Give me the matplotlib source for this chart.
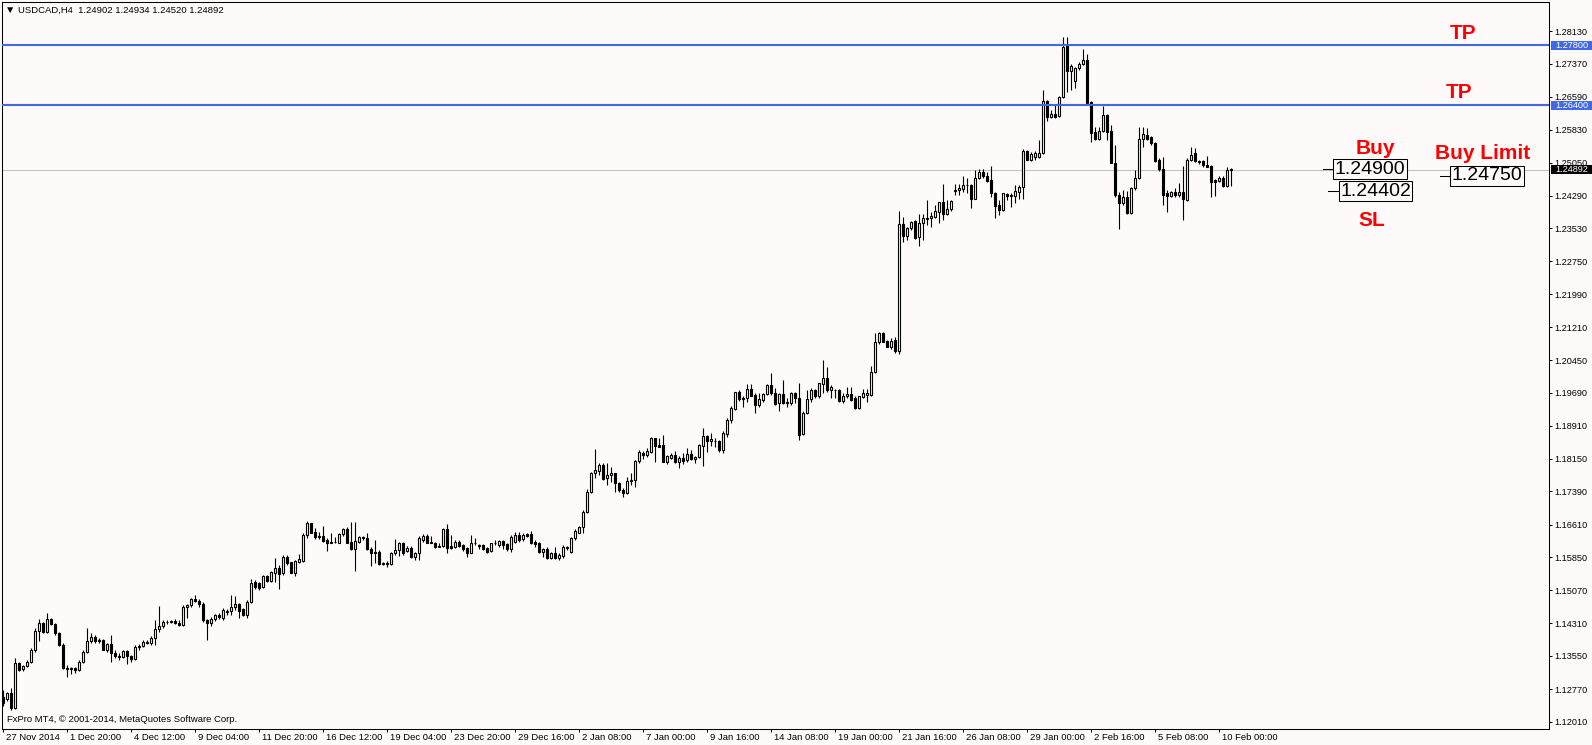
import numpy as np
import matplotlib
matplotlib.use("Agg")
import matplotlib.pyplot as plt
from matplotlib.patches import Rectangle
from matplotlib.transforms import blended_transform_factory, ScaledTranslation

plt.rcParams['font.family'] = ['Liberation Sans', 'DejaVu Sans']

# USDCAD H4 bars, 27 Nov 2014 -> 10 Feb 2015
opens = [
    1.1259, 1.1254, 1.1267, 1.1232, 1.1337, 1.1323, 1.1331, 1.1339, 1.1368, 1.1413,
    1.1431, 1.1411, 1.1440, 1.1429, 1.1407, 1.1380, 1.1325, 1.1323, 1.1325, 1.1322,
    1.1341, 1.1364, 1.1388, 1.1399, 1.1389, 1.1392, 1.1368, 1.1381, 1.1362, 1.1354,
    1.1351, 1.1366, 1.1353, 1.1347, 1.1374, 1.1378, 1.1387, 1.1384, 1.1397, 1.1417,
    1.1423, 1.1433, 1.1434, 1.1435, 1.1431, 1.1427, 1.1469, 1.1472, 1.1486, 1.1483,
    1.1476, 1.1438, 1.1430, 1.1440, 1.1450, 1.1442, 1.1457, 1.1458, 1.1468, 1.1476,
    1.1463, 1.1450, 1.1481, 1.1526, 1.1524, 1.1514, 1.1541, 1.1530, 1.1549, 1.1559,
    1.1547, 1.1586, 1.1573, 1.1549, 1.1574, 1.1577, 1.1637, 1.1664, 1.1644, 1.1633,
    1.1634, 1.1625, 1.1619, 1.1621, 1.1619, 1.1639, 1.1651, 1.1621, 1.1603, 1.1621,
    1.1631, 1.1630, 1.1605, 1.1598, 1.1598, 1.1569, 1.1571, 1.1569, 1.1594, 1.1602,
    1.1617, 1.1599, 1.1607, 1.1585, 1.1594, 1.1625, 1.1634, 1.1619, 1.1619, 1.1609,
    1.1610, 1.1650, 1.1610, 1.1608, 1.1621, 1.1613, 1.1606, 1.1595, 1.1617, 1.1613,
    1.1613, 1.1607, 1.1599, 1.1617, 1.1613, 1.1623, 1.1616, 1.1603, 1.1621, 1.1637,
    1.1627, 1.1638, 1.1638, 1.1621, 1.1619, 1.1598, 1.1603, 1.1582, 1.1595, 1.1582,
    1.1588, 1.1606, 1.1598, 1.1629, 1.1642, 1.1655, 1.1691, 1.1736, 1.1781, 1.1787,
    1.1800, 1.1769, 1.1777, 1.1781, 1.1757, 1.1742, 1.1734, 1.1763, 1.1765, 1.1809,
    1.1829, 1.1823, 1.1831, 1.1862, 1.1847, 1.1847, 1.1808, 1.1817, 1.1823, 1.1808,
    1.1817, 1.1812, 1.1826, 1.1813, 1.1818, 1.1844, 1.1868, 1.1855, 1.1857, 1.1857,
    1.1834, 1.1872, 1.1904, 1.1930, 1.1970, 1.1957, 1.1956, 1.1977, 1.1963, 1.1940,
    1.1952, 1.1966, 1.1987, 1.1969, 1.1944, 1.1966, 1.1944, 1.1944, 1.1967, 1.1956,
    1.1872, 1.1922, 1.1953, 1.1975, 1.1960, 1.1989, 1.2004, 1.1974, 1.1976, 1.1974,
    1.1950, 1.1960, 1.1965, 1.1956, 1.1932, 1.1958, 1.1963, 1.1963, 1.2016, 1.2088,
    1.2109, 1.2090, 1.2076, 1.2092, 1.2067, 1.2363, 1.2335, 1.2352, 1.2370, 1.2331,
    1.2364, 1.2376, 1.2376, 1.2380, 1.2391, 1.2413, 1.2385, 1.2397, 1.2440, 1.2442,
    1.2444, 1.2454, 1.2454, 1.2422, 1.2471, 1.2484, 1.2475, 1.2465, 1.2436, 1.2407,
    1.2395, 1.2433, 1.2428, 1.2429, 1.2438, 1.2448, 1.2534, 1.2513, 1.2519, 1.2519,
    1.2529, 1.2650, 1.2613, 1.2619, 1.2614, 1.2658, 1.2780, 1.2720, 1.2697, 1.2726,
    1.2735, 1.2745, 1.2648, 1.2578, 1.2560, 1.2580, 1.2617, 1.2580, 1.2506, 1.2430,
    1.2411, 1.2426, 1.2389, 1.2446, 1.2469, 1.2560, 1.2570, 1.2565, 1.2551, 1.2512,
    1.2490, 1.2434, 1.2429, 1.2438, 1.2430, 1.2438, 1.2418, 1.2513, 1.2529, 1.2510,
    1.2510, 1.2500, 1.2498, 1.2465, 1.2464, 1.2471, 1.2451, 1.24902,
]
highs = [
    1.1275, 1.1271, 1.1279, 1.1349, 1.1339, 1.1333, 1.1345, 1.1372, 1.1419, 1.1440,
    1.1434, 1.1454, 1.1442, 1.1432, 1.1409, 1.1384, 1.1333, 1.1328, 1.1328, 1.1345,
    1.1368, 1.1419, 1.1407, 1.1403, 1.1395, 1.1393, 1.1385, 1.1403, 1.1367, 1.1360,
    1.1368, 1.1368, 1.1357, 1.1380, 1.1382, 1.1392, 1.1392, 1.1401, 1.1438, 1.1471,
    1.1437, 1.1438, 1.1438, 1.1440, 1.1437, 1.1473, 1.1476, 1.1489, 1.1497, 1.1486,
    1.1479, 1.1441, 1.1444, 1.1452, 1.1454, 1.1465, 1.1463, 1.1497, 1.1493, 1.1477,
    1.1465, 1.1485, 1.1533, 1.1532, 1.1526, 1.1543, 1.1543, 1.1553, 1.1584, 1.1567,
    1.1590, 1.1590, 1.1574, 1.1578, 1.1592, 1.1641, 1.1670, 1.1665, 1.1652, 1.1644,
    1.1658, 1.1630, 1.1641, 1.1633, 1.1641, 1.1654, 1.1656, 1.1666, 1.1666, 1.1634,
    1.1634, 1.1641, 1.1609, 1.1625, 1.1602, 1.1574, 1.1576, 1.1598, 1.1627, 1.1621,
    1.1621, 1.1610, 1.1610, 1.1598, 1.1634, 1.1638, 1.1638, 1.1634, 1.1621, 1.1617,
    1.1652, 1.1662, 1.1637, 1.1625, 1.1625, 1.1616, 1.1609, 1.1637, 1.1629, 1.1615,
    1.1615, 1.1609, 1.1619, 1.1625, 1.1626, 1.1626, 1.1619, 1.1637, 1.1644, 1.1644,
    1.1642, 1.1642, 1.1646, 1.1625, 1.1621, 1.1606, 1.1609, 1.1598, 1.1609, 1.1594,
    1.1613, 1.1611, 1.1633, 1.1650, 1.1658, 1.1695, 1.1743, 1.1784, 1.1837, 1.1805,
    1.1804, 1.1804, 1.1795, 1.1782, 1.1761, 1.1746, 1.1773, 1.1781, 1.1812, 1.1835,
    1.1833, 1.1839, 1.1865, 1.1864, 1.1862, 1.1870, 1.1823, 1.1827, 1.1833, 1.1821,
    1.1827, 1.1839, 1.1835, 1.1821, 1.1849, 1.1886, 1.1870, 1.1874, 1.1862, 1.1858,
    1.1879, 1.1909, 1.1938, 1.1971, 1.1975, 1.1961, 1.1989, 1.1989, 1.1967, 1.1969,
    1.1969, 1.1989, 1.2014, 1.1979, 1.1969, 1.1998, 1.1956, 1.1971, 1.1971, 1.1991,
    1.1925, 1.1975, 1.1979, 1.1977, 1.1992, 1.2044, 1.2028, 1.1987, 1.1978, 1.1977,
    1.1967, 1.1981, 1.1981, 1.1960, 1.1961, 1.1977, 1.1977, 1.2031, 1.2109, 1.2111,
    1.2111, 1.2092, 1.2096, 1.2098, 1.2394, 1.2380, 1.2355, 1.2370, 1.2373, 1.2386,
    1.2386, 1.2419, 1.2391, 1.2407, 1.2415, 1.2456, 1.2419, 1.2419, 1.2457, 1.2456,
    1.2475, 1.2471, 1.2457, 1.2489, 1.2490, 1.2490, 1.2485, 1.2498, 1.2438, 1.2418,
    1.2436, 1.2436, 1.2436, 1.2454, 1.2454, 1.2537, 1.2535, 1.2531, 1.2533, 1.2559,
    1.2675, 1.2653, 1.2629, 1.2640, 1.2661, 1.2800, 1.2800, 1.2737, 1.2730, 1.2741,
    1.2770, 1.2759, 1.2650, 1.2590, 1.2588, 1.2638, 1.2619, 1.2594, 1.2547, 1.2438,
    1.2442, 1.2440, 1.2448, 1.2489, 1.2590, 1.2588, 1.2586, 1.2568, 1.2555, 1.2516,
    1.2518, 1.2442, 1.2440, 1.2446, 1.2459, 1.2498, 1.2516, 1.2543, 1.2539, 1.2513,
    1.2512, 1.2521, 1.2500, 1.2467, 1.2475, 1.2475, 1.2495, 1.24934,
]
lows = [
    1.1237, 1.1250, 1.1228, 1.1230, 1.1320, 1.1320, 1.1328, 1.1337, 1.1364, 1.1388,
    1.1407, 1.1407, 1.1427, 1.1403, 1.1378, 1.1323, 1.1306, 1.1312, 1.1315, 1.1318,
    1.1337, 1.1360, 1.1385, 1.1385, 1.1384, 1.1367, 1.1364, 1.1339, 1.1349, 1.1345,
    1.1349, 1.1336, 1.1339, 1.1345, 1.1368, 1.1374, 1.1382, 1.1380, 1.1380, 1.1411,
    1.1419, 1.1429, 1.1431, 1.1428, 1.1423, 1.1424, 1.1442, 1.1469, 1.1481, 1.1469,
    1.1434, 1.1392, 1.1425, 1.1436, 1.1440, 1.1438, 1.1450, 1.1450, 1.1462, 1.1442,
    1.1448, 1.1442, 1.1477, 1.1510, 1.1508, 1.1512, 1.1526, 1.1528, 1.1528, 1.1510,
    1.1543, 1.1567, 1.1547, 1.1541, 1.1571, 1.1574, 1.1629, 1.1641, 1.1627, 1.1627,
    1.1620, 1.1600, 1.1617, 1.1617, 1.1617, 1.1634, 1.1617, 1.1602, 1.1553, 1.1617,
    1.1626, 1.1602, 1.1564, 1.1571, 1.1567, 1.1567, 1.1563, 1.1567, 1.1590, 1.1588,
    1.1590, 1.1598, 1.1582, 1.1578, 1.1578, 1.1621, 1.1617, 1.1617, 1.1606, 1.1608,
    1.1608, 1.1594, 1.1603, 1.1606, 1.1609, 1.1600, 1.1585, 1.1594, 1.1613, 1.1603,
    1.1602, 1.1595, 1.1598, 1.1613, 1.1609, 1.1603, 1.1600, 1.1598, 1.1619, 1.1621,
    1.1623, 1.1631, 1.1616, 1.1609, 1.1594, 1.1586, 1.1580, 1.1580, 1.1580, 1.1578,
    1.1582, 1.1602, 1.1595, 1.1625, 1.1641, 1.1642, 1.1687, 1.1734, 1.1769, 1.1777,
    1.1765, 1.1753, 1.1761, 1.1738, 1.1736, 1.1725, 1.1732, 1.1753, 1.1748, 1.1804,
    1.1813, 1.1819, 1.1827, 1.1808, 1.1841, 1.1808, 1.1802, 1.1813, 1.1804, 1.1792,
    1.1802, 1.1808, 1.1812, 1.1805, 1.1816, 1.1798, 1.1831, 1.1844, 1.1841, 1.1831,
    1.1829, 1.1866, 1.1899, 1.1928, 1.1950, 1.1936, 1.1948, 1.1960, 1.1921, 1.1936,
    1.1948, 1.1963, 1.1963, 1.1940, 1.1925, 1.1942, 1.1936, 1.1940, 1.1944, 1.1858,
    1.1870, 1.1919, 1.1946, 1.1956, 1.1956, 1.1967, 1.1971, 1.1956, 1.1956, 1.1948,
    1.1944, 1.1956, 1.1950, 1.1930, 1.1930, 1.1956, 1.1948, 1.1961, 1.2014, 1.2083,
    1.2086, 1.2075, 1.2070, 1.2062, 1.2059, 1.2321, 1.2324, 1.2349, 1.2327, 1.2310,
    1.2324, 1.2360, 1.2356, 1.2376, 1.2364, 1.2372, 1.2383, 1.2394, 1.2430, 1.2430,
    1.2438, 1.2434, 1.2401, 1.2420, 1.2467, 1.2471, 1.2461, 1.2426, 1.2376, 1.2384,
    1.2394, 1.2418, 1.2403, 1.2411, 1.2420, 1.2422, 1.2512, 1.2510, 1.2512, 1.2516,
    1.2527, 1.2604, 1.2611, 1.2611, 1.2613, 1.2656, 1.2671, 1.2675, 1.2679, 1.2722,
    1.2734, 1.2644, 1.2555, 1.2559, 1.2559, 1.2578, 1.2559, 1.2504, 1.2426, 1.2350,
    1.2407, 1.2387, 1.2387, 1.2443, 1.2467, 1.2543, 1.2559, 1.2547, 1.2508, 1.2487,
    1.2407, 1.2391, 1.2426, 1.2426, 1.2426, 1.2373, 1.2417, 1.2510, 1.2508, 1.2503,
    1.2496, 1.2495, 1.2425, 1.2428, 1.2461, 1.2450, 1.2448, 1.24520,
]
closes = [
    1.1244, 1.1267, 1.1232, 1.1337, 1.1322, 1.1331, 1.1339, 1.1368, 1.1413, 1.1431,
    1.1411, 1.1440, 1.1429, 1.1407, 1.1380, 1.1325, 1.1323, 1.1325, 1.1322, 1.1341,
    1.1364, 1.1388, 1.1399, 1.1389, 1.1392, 1.1368, 1.1381, 1.1362, 1.1354, 1.1351,
    1.1366, 1.1353, 1.1347, 1.1374, 1.1378, 1.1387, 1.1384, 1.1397, 1.1417, 1.1423,
    1.1433, 1.1434, 1.1435, 1.1431, 1.1427, 1.1469, 1.1472, 1.1486, 1.1483, 1.1476,
    1.1438, 1.1430, 1.1440, 1.1450, 1.1445, 1.1462, 1.1459, 1.1468, 1.1476, 1.1460,
    1.1450, 1.1481, 1.1524, 1.1515, 1.1512, 1.1541, 1.1530, 1.1551, 1.1559, 1.1546,
    1.1586, 1.1571, 1.1549, 1.1576, 1.1580, 1.1637, 1.1664, 1.1642, 1.1633, 1.1634,
    1.1623, 1.1619, 1.1621, 1.1620, 1.1639, 1.1651, 1.1619, 1.1603, 1.1623, 1.1631,
    1.1630, 1.1603, 1.1594, 1.1594, 1.1569, 1.1571, 1.1569, 1.1594, 1.1602, 1.1619,
    1.1594, 1.1607, 1.1585, 1.1595, 1.1629, 1.1634, 1.1619, 1.1620, 1.1609, 1.1612,
    1.1650, 1.1606, 1.1606, 1.1621, 1.1612, 1.1603, 1.1595, 1.1617, 1.1619, 1.1612,
    1.1604, 1.1598, 1.1617, 1.1618, 1.1623, 1.1613, 1.1603, 1.1631, 1.1637, 1.1625,
    1.1637, 1.1634, 1.1617, 1.1616, 1.1598, 1.1603, 1.1582, 1.1595, 1.1582, 1.1590,
    1.1609, 1.1609, 1.1629, 1.1646, 1.1655, 1.1691, 1.1736, 1.1781, 1.1788, 1.1800,
    1.1767, 1.1777, 1.1782, 1.1757, 1.1742, 1.1734, 1.1763, 1.1765, 1.1809, 1.1831,
    1.1823, 1.1833, 1.1862, 1.1844, 1.1843, 1.1808, 1.1820, 1.1823, 1.1808, 1.1817,
    1.1810, 1.1826, 1.1813, 1.1818, 1.1847, 1.1868, 1.1855, 1.1861, 1.1855, 1.1834,
    1.1874, 1.1905, 1.1932, 1.1970, 1.1953, 1.1953, 1.1977, 1.1961, 1.1940, 1.1953,
    1.1966, 1.1987, 1.1967, 1.1942, 1.1966, 1.1944, 1.1946, 1.1967, 1.1956, 1.1870,
    1.1922, 1.1953, 1.1975, 1.1960, 1.1991, 1.2004, 1.1974, 1.1981, 1.1974, 1.1950,
    1.1961, 1.1965, 1.1952, 1.1932, 1.1960, 1.1967, 1.1967, 1.2016, 1.2088, 1.2109,
    1.2088, 1.2076, 1.2090, 1.2065, 1.2363, 1.2335, 1.2352, 1.2368, 1.2329, 1.2364,
    1.2376, 1.2375, 1.2381, 1.2393, 1.2413, 1.2386, 1.2397, 1.2416, 1.2442, 1.2446,
    1.2454, 1.2453, 1.2422, 1.2471, 1.2484, 1.2475, 1.2464, 1.2436, 1.2405, 1.2395,
    1.2434, 1.2428, 1.2430, 1.2440, 1.2448, 1.2534, 1.2513, 1.2526, 1.2529, 1.2529,
    1.2650, 1.2613, 1.2619, 1.2613, 1.2658, 1.2776, 1.2720, 1.2731, 1.2726, 1.2737,
    1.2745, 1.2646, 1.2576, 1.2560, 1.2580, 1.2617, 1.2578, 1.2506, 1.2430, 1.2411,
    1.2426, 1.2389, 1.2446, 1.2469, 1.2560, 1.2573, 1.2562, 1.2551, 1.2510, 1.2490,
    1.2430, 1.2429, 1.2438, 1.2430, 1.2438, 1.2420, 1.2513, 1.2524, 1.2510, 1.2508,
    1.2500, 1.2496, 1.2461, 1.2461, 1.2471, 1.2451, 1.2489, 1.24892,
]

date_labels = ["27 Nov 2014", "1 Dec 20:00", "4 Dec 12:00", "9 Dec 04:00", "11 Dec 20:00",
               "16 Dec 12:00", "19 Dec 04:00", "23 Dec 20:00", "29 Dec 16:00", "2 Jan 08:00",
               "7 Jan 00:00", "9 Jan 16:00", "14 Jan 08:00", "19 Jan 00:00", "21 Jan 16:00",
               "26 Jan 08:00", "29 Jan 00:00", "2 Feb 16:00", "5 Feb 08:00", "10 Feb 00:00"]
price_ticks = [1.28130, 1.27370, 1.26590, 1.25830, 1.25050, 1.24290, 1.23530, 1.22750,
               1.21990, 1.21210, 1.20450, 1.19690, 1.18910, 1.18150, 1.17390, 1.16610,
               1.15850, 1.15070, 1.14310, 1.13550, 1.12770, 1.12010]
tp_levels = [1.27800, 1.26400]
last_price = 1.24892
header = "USDCAD,H4  1.24902 1.24934 1.24520 1.24892"

# order labels drawn to the right of the last bar: (text, bar position, price)
order_boxes = [("1.24900", 341.9, 1.24900), ("1.24402", 343.2, 1.24395), ("1.24750", 371.1, 1.24750)]
order_ticks = [(330.1, 332.8, 1.24900), (331.3, 334.1, 1.24402), (359.3, 362.1, 1.24750)]
red_notes = [("TP", 365.1, 1.28083), ("TP", 364.1, 1.26706), ("Buy", 343.1, 1.25376),
             ("Buy Limit", 370.1, 1.25259), ("SL", 342.3, 1.23718)]

bg = '#fffafa'
W, H = 1592, 745
fig = plt.figure(figsize=(W / 100, H / 100), dpi=100, facecolor=bg)
ax = fig.add_axes([2 / W, 16 / H, 1547 / W, 727 / H], facecolor=bg)

o = np.array(opens)
hi = np.array(highs)
lo = np.array(lows)
c = np.array(closes)
x = np.arange(len(c))
up = c >= o

# candles: wicks, then white bull bodies and black bear bodies
ax.vlines(x, lo, hi, color='black', linewidth=0.8, zorder=2)
ax.bar(x[up], c[up] - o[up], bottom=o[up], width=0.5, facecolor=bg,
       edgecolor='black', linewidth=0.8, zorder=3)
ax.bar(x[~up], o[~up] - c[~up], bottom=c[~up], width=0.5, facecolor='black',
       edgecolor='black', linewidth=0.8, zorder=3)

for tp in tp_levels:
    ax.axhline(tp, color='#4169e1', linewidth=1.5, zorder=4)
ax.axhline(last_price, color='#c0c0c0', linewidth=0.75, zorder=1)

ax.set_xlim(-0.175, 386.575)
ax.set_ylim(1.11837, 1.28807)

for s in ax.spines.values():
    s.set_color('black')
    s.set_linewidth(0.75)

# price scale on the right
ax.yaxis.tick_right()
ax.set_yticks(price_ticks, labels=[f"{v:.5f}" for v in price_ticks])
ax.tick_params(axis='y', length=2.5, width=0.75, pad=1.5, labelsize=6.6, direction='out')

# time scale, labels start right of the tick
ax.set_xticks(np.arange(len(date_labels)) * 16, labels=date_labels)
ax.tick_params(axis='x', length=2.5, width=0.75, pad=0.5, labelsize=6.8, direction='out')
shift = ScaledTranslation(3 / 100, 0, fig.dpi_scale_trans)
for lab in ax.get_xticklabels():
    lab.set_horizontalalignment('left')
    lab.set_transform(lab.get_transform() + shift)

# highlighted price tags on the scale
tag_tr = blended_transform_factory(fig.transFigure, ax.transData)
for val, fc in [(tp_levels[0], '#4169e1'), (tp_levels[1], '#4169e1'), (last_price, 'black')]:
    ax.add_patch(Rectangle((1551 / W, val - 0.00105), 41 / W, 0.0021, transform=tag_tr,
                           facecolor=fc, edgecolor='none', clip_on=False, zorder=10))
    ax.text(1555 / W, val, f"{val:.5f}", transform=tag_tr, color='white', fontsize=6.6,
            va='center', ha='left', clip_on=False, zorder=11)

# order labels
for x0, x1, p in order_ticks:
    ax.plot([x0, x1], [p, p], color='black', linewidth=0.75, zorder=5)
for txt, xb, p in order_boxes:
    ax.text(xb, p, txt, fontsize=14, ha='center', va='center', zorder=6,
            bbox=dict(boxstyle='square,pad=0.08', facecolor=bg, edgecolor='black', linewidth=0.75))
for txt, xb, p in red_notes:
    ax.text(xb, p, txt, fontsize=15, fontweight='bold', color='red', ha='center', va='center', zorder=6)

fig.text(5 / W, 1 - 10 / H, "\u25bc", fontsize=7.5, va='center')
fig.text(18 / W, 1 - 10 / H, header, fontsize=6.8, va='center')
fig.text(7 / W, 1 - 720 / H, "FxPro MT4, \u00a9 2001-2014, MetaQuotes Software Corp.", fontsize=6.8, va='center')

fig.savefig('out.png', dpi=100, facecolor=bg)
